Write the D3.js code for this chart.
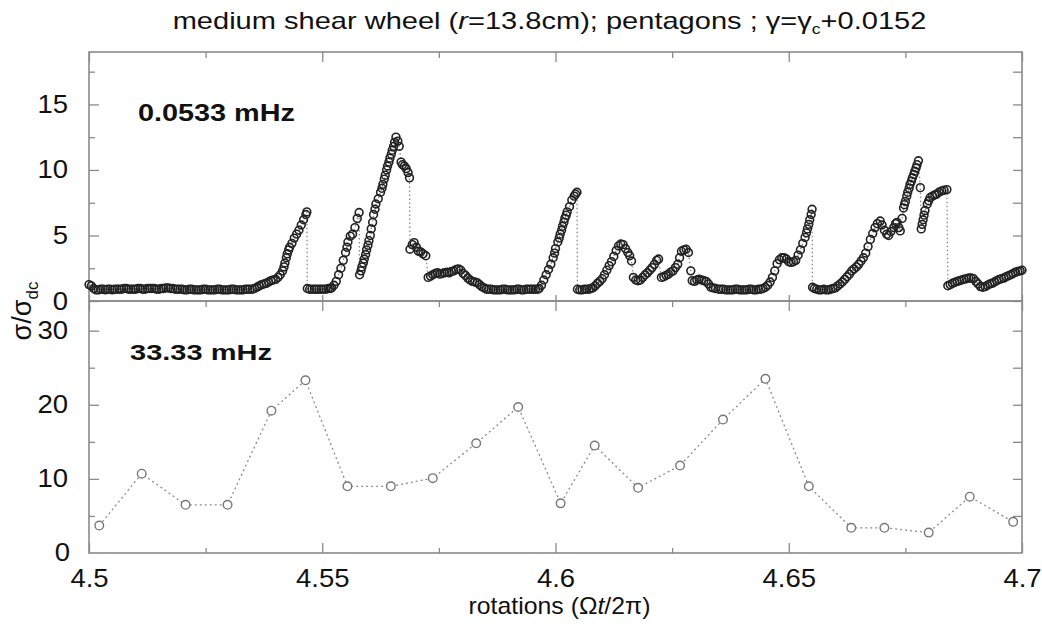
<!DOCTYPE html>
<html>
<head>
<meta charset="utf-8">
<script src="https://cdn.jsdelivr.net/npm/d3@7"></script>
<style>
  body { margin: 0; background: #fff; }
  svg { font-family: "Liberation Sans", Arial, sans-serif; }
</style>
</head>
<body>
<div id="chart"></div>
<script>
// x ticks (rotations) and y ticks for both panels
const xMajor = [4.5, 4.55, 4.6, 4.65, 4.7];
const xMinor = [4.525, 4.575, 4.625, 4.675];
const topMajor = [0, 5, 10, 15];
const topMinor = [2.5, 7.5, 12.5, 17.5];
const botMajor = [0, 10, 20, 30];
const botMinor = [5, 15, 25];

// top panel: 0.0533 mHz, [rotation, sigma/sigma_dc]
const topSeries = [
  [4.5000,1.25],[4.5005,1.15],[4.5010,0.95],[4.5015,0.85],
  [4.5020,0.85],[4.5025,0.9],[4.5030,0.9],[4.5035,0.85],[4.5040,0.9],[4.5045,0.9],[4.5050,0.85],
  [4.5055,0.9],[4.5060,0.9],[4.5065,0.9],[4.5070,0.9],[4.5075,0.95],[4.5080,0.95],[4.5085,0.9],
  [4.5090,0.9],[4.5095,0.9],[4.5100,0.9],[4.5105,0.95],[4.5110,0.95],[4.5115,0.9],[4.5120,0.9],
  [4.5125,0.95],[4.5130,0.95],[4.5135,0.95],[4.5140,0.95],[4.5145,0.9],[4.5150,0.9],[4.5155,0.95],
  [4.5160,0.95],[4.5165,1.0],[4.5170,1.0],[4.5175,0.95],[4.5180,0.95],[4.5185,0.9],[4.5190,0.9],
  [4.5195,0.9],[4.5200,0.9],[4.5205,0.85],[4.5210,0.85],[4.5215,0.9],[4.5220,0.9],[4.5225,0.85],
  [4.5230,0.85],[4.5235,0.85],[4.5240,0.85],[4.5245,0.9],[4.5250,0.9],[4.5255,0.85],[4.5260,0.85],
  [4.5265,0.85],[4.5270,0.85],[4.5275,0.9],[4.5280,0.9],[4.5285,0.85],[4.5290,0.85],[4.5295,0.85],
  [4.5300,0.85],[4.5305,0.9],[4.5310,0.9],[4.5315,0.85],[4.5320,0.85],[4.5325,0.85],[4.5330,0.85],
  [4.5335,0.9],[4.5340,0.9],[4.5345,0.9],
  [4.5350,0.9],[4.5355,0.95],[4.5360,1.05],[4.5365,1.15],[4.5370,1.25],[4.5375,1.3],[4.5380,1.35],
  [4.5385,1.45],[4.5390,1.55],[4.5395,1.6],[4.5400,1.65],[4.5405,1.8],[4.5410,2.0],[4.5415,2.3],
  [4.5418,2.6],[4.5420,2.9],[4.5423,3.3],[4.5425,3.6],[4.5428,3.9],[4.5430,4.1],[4.5435,4.4],
  [4.5440,4.8],[4.5445,5.1],[4.5450,5.4],[4.5455,5.8],[4.5460,6.2],[4.5465,6.6],[4.5467,6.8],
  [4.5468,0.95],[4.5473,0.9],[4.5478,0.9],[4.5483,0.9],[4.5488,0.9],[4.5493,0.9],[4.5498,0.9],
  [4.5503,0.9],[4.5508,0.9],[4.5513,0.95],[4.5517,0.95],
  [4.5520,1.0],[4.5525,1.2],[4.5530,1.5],[4.5535,2.0],[4.5540,2.5],[4.5545,3.1],[4.5550,3.7],
  [4.5553,4.1],[4.5555,4.5],[4.5560,4.95],[4.5565,5.1],[4.5570,5.6],[4.5575,6.3],[4.5579,6.75],
  [4.5580,2.0],[4.5583,2.3],[4.5585,2.6],[4.5588,2.9],[4.5590,3.2],[4.5593,3.55],[4.5595,3.9],
  [4.5598,4.25],[4.5600,4.6],[4.5603,5.0],[4.5605,5.5],[4.5608,6.0],[4.5610,6.6],[4.5613,7.0],
  [4.5615,7.4],[4.5620,7.8],[4.5625,8.3],[4.5628,8.6],[4.5630,8.9],[4.5633,9.3],[4.5635,9.6],
  [4.5638,10.0],[4.5640,10.3],[4.5643,10.6],[4.5645,10.9],[4.5648,11.2],[4.5650,11.5],[4.5653,11.8],
  [4.5655,12.1],[4.5658,12.5],[4.5662,12.2],[4.5665,11.8],[4.5669,10.6],[4.5672,10.4],
  [4.5676,10.3],[4.5680,10.1],[4.5684,9.8],[4.5687,9.4],
  [4.5688,3.95],[4.5693,4.3],[4.5697,4.45],[4.5702,4.1],[4.5706,3.8],[4.5711,3.75],[4.5716,3.6],
  [4.5722,3.45],
  [4.5727,1.8],[4.5732,1.9],[4.5737,2.0],[4.5742,2.1],[4.5747,2.15],[4.5752,2.05],[4.5757,2.1],
  [4.5762,2.15],[4.5767,2.2],[4.5772,2.15],[4.5777,2.25],[4.5782,2.3],[4.5787,2.4],[4.5792,2.45],
  [4.5797,2.35],[4.5802,2.1],[4.5807,1.95],[4.5812,1.75],[4.5817,1.6],[4.5822,1.5],[4.5827,1.45],
  [4.5832,1.4],[4.5837,1.25],[4.5842,1.1],[4.5847,1.0],[4.5852,0.9],
  [4.5857,0.9],[4.5862,0.9],[4.5867,0.85],[4.5872,0.85],[4.5877,0.85],[4.5882,0.85],[4.5887,0.9],
  [4.5892,0.9],[4.5897,0.85],[4.5902,0.85],[4.5907,0.85],[4.5912,0.85],[4.5917,0.9],[4.5922,0.9],
  [4.5927,0.85],[4.5932,0.85],[4.5937,0.9],[4.5942,0.9],[4.5947,0.9],[4.5952,0.9],[4.5957,0.9],
  [4.5962,0.9],
  [4.5965,0.95],[4.5970,1.2],[4.5975,1.6],[4.5980,2.0],[4.5985,2.4],[4.5990,2.8],[4.5995,3.3],
  [4.5998,3.65],[4.6000,4.0],[4.6005,4.5],[4.6008,4.8],[4.6010,5.1],[4.6013,5.4],[4.6015,5.7],
  [4.6018,6.0],[4.6020,6.3],[4.6023,6.55],[4.6025,6.8],[4.6030,7.2],[4.6035,7.7],[4.6040,8.0],
  [4.6043,8.15],[4.6046,8.3],
  [4.6047,0.9],[4.6052,0.85],[4.6057,0.85],[4.6062,0.9],[4.6067,0.9],[4.6072,0.9],[4.6076,0.95],
  [4.6080,1.0],[4.6085,1.15],[4.6090,1.35],[4.6095,1.5],[4.6100,1.7],[4.6105,2.0],[4.6110,2.35],
  [4.6115,2.7],[4.6120,3.0],[4.6125,3.4],[4.6130,3.85],[4.6135,4.2],[4.6140,4.35],[4.6145,4.3],
  [4.6150,4.0],[4.6155,3.7],[4.6159,3.45],[4.6163,3.05],
  [4.6167,1.8],[4.6172,1.6],[4.6177,1.55],[4.6182,1.6],[4.6187,1.8],[4.6192,2.0],[4.6197,2.15],
  [4.6202,2.35],[4.6207,2.55],[4.6212,2.8],[4.6217,3.1],[4.6221,3.2],
  [4.6227,1.8],[4.6232,1.85],[4.6237,1.95],[4.6242,2.05],[4.6247,2.2],[4.6252,2.3],[4.6257,2.55],
  [4.6262,2.8],[4.6266,3.3],[4.6270,3.8],[4.6275,3.9],[4.6280,3.95],[4.6285,3.7],[4.6290,2.3],
  [4.6293,1.55],[4.6298,1.5],[4.6303,1.6],[4.6308,1.67],[4.6313,1.6],[4.6318,1.55],[4.6323,1.5],
  [4.6328,1.3],[4.6333,1.05],[4.6338,1.0],[4.6343,0.95],[4.6350,0.9],
  [4.6355,0.9],[4.6360,0.9],[4.6365,0.85],[4.6370,0.85],[4.6375,0.85],[4.6380,0.85],[4.6385,0.9],
  [4.6390,0.9],[4.6395,0.85],[4.6400,0.85],[4.6405,0.85],[4.6410,0.85],[4.6415,0.9],[4.6420,0.9],
  [4.6425,0.85],[4.6430,0.85],[4.6435,0.9],[4.6440,0.9],
  [4.6445,0.95],[4.6450,1.05],[4.6455,1.2],[4.6460,1.45],[4.6465,1.8],[4.6470,2.3],[4.6475,2.85],
  [4.6480,3.15],[4.6485,3.3],[4.6490,3.3],[4.6495,3.2],[4.6500,3.0],[4.6505,2.95],[4.6510,3.0],
  [4.6515,3.1],[4.6520,3.5],[4.6525,3.9],[4.6530,4.4],[4.6535,4.85],[4.6538,5.2],[4.6540,5.5],
  [4.6543,5.85],[4.6545,6.2],[4.6548,6.6],[4.6550,7.0],
  [4.6551,1.05],[4.6555,0.95],[4.6560,0.9],[4.6565,0.85],[4.6570,0.85],[4.6575,0.9],[4.6580,0.85],
  [4.6585,0.85],[4.6590,0.9],[4.6595,0.95],
  [4.6600,1.0],[4.6605,1.15],[4.6610,1.3],[4.6615,1.45],[4.6620,1.65],[4.6625,1.85],[4.6630,2.05],
  [4.6635,2.3],[4.6640,2.45],[4.6645,2.6],[4.6650,2.8],[4.6655,3.05],[4.6660,3.3],[4.6665,3.65],
  [4.6670,4.15],[4.6675,4.7],[4.6680,5.15],[4.6685,5.6],[4.6690,5.9],[4.6696,6.1],[4.6700,5.8],
  [4.6705,5.4],[4.6710,5.1],[4.6714,5.0],[4.6719,5.3],[4.6725,5.6],[4.6729,5.9],[4.6732,6.0],
  [4.6736,5.6],[4.6739,5.35],[4.6743,6.3],[4.6746,7.1],[4.6748,7.35],[4.6750,7.6],[4.6753,8.0],
  [4.6755,8.3],[4.6758,8.6],[4.6760,8.9],[4.6763,9.15],[4.6765,9.4],[4.6768,9.65],[4.6770,9.9],
  [4.6773,10.15],[4.6775,10.4],[4.6778,10.7],[4.6782,8.65],
  [4.6784,5.5],[4.6786,5.85],[4.6788,6.2],[4.6790,6.55],[4.6792,6.9],[4.6797,7.4],[4.6800,7.65],
  [4.6803,7.9],[4.6808,8.0],[4.6813,8.1],[4.6817,8.15],[4.6822,8.3],[4.6828,8.4],[4.6833,8.45],
  [4.6839,8.5],
  [4.6841,1.16],[4.6846,1.25],[4.6851,1.35],[4.6856,1.42],[4.6861,1.5],[4.6866,1.55],[4.6871,1.6],
  [4.6876,1.67],[4.6881,1.7],[4.6886,1.75],[4.6891,1.75],[4.6896,1.7],[4.6901,1.5],[4.6906,1.3],
  [4.6911,1.1],[4.6916,1.05],[4.6921,1.1],[4.6926,1.2],[4.6931,1.3],[4.6936,1.35],[4.6941,1.45],
  [4.6946,1.55],[4.6951,1.65],[4.6956,1.7],[4.6961,1.75],[4.6966,1.85],[4.6971,1.93],[4.6976,2.0],
  [4.6981,2.1],[4.6986,2.2],[4.6991,2.25],[4.6996,2.3],[4.7000,2.35]
];

// bottom panel: 33.33 mHz
const botRot = [4.5022, 4.5113, 4.5207, 4.5297, 4.5391, 4.5464, 4.5554, 4.5647, 4.5737, 4.5830,
  4.5920, 4.6011, 4.6084, 4.6177, 4.6267, 4.6359, 4.6450, 4.6543, 4.6634, 4.6705, 4.6800, 4.6888, 4.6981];
const botSigma = [3.7, 10.7, 6.5, 6.5, 19.2, 23.3, 9.0, 9.0, 10.1, 14.8,
  19.7, 6.7, 14.5, 8.8, 11.8, 18.0, 23.5, 9.0, 3.4, 3.4, 2.75, 7.6, 4.2];

const W = 1042, H = 634;
const pLeft = 89, pRight = 1022, pTop = 52, pMid = 301, pBottom = 553;
const stretch = 1.1; // the original figure is a little wider than tall

const svg = d3.select("#chart").append("svg")
  .attr("width", W).attr("height", H);

const x = d3.scaleLinear().domain([4.5, 4.7]).range([pLeft, pRight]);
const yTop = d3.scaleLinear().domain([0, 19]).range([pMid, pTop]);
const yBot = d3.scaleLinear().domain([0, 34]).range([pBottom, pMid]);

const axisColor = "#8a8a8a";

// draw one set of inward ticks
function ticks(axisFn, scale, values, size, tx, ty, labels, pad) {
  const ax = axisFn(scale).tickValues(values).tickSize(-size).tickSizeOuter(0).tickPadding(pad || 10);
  if (!labels) ax.tickFormat("");
  else ax.tickFormat(d => String(d));
  const g = svg.append("g").attr("transform", `translate(${tx},${ty})`).call(ax);
  g.select(".domain").remove();
  g.selectAll("line").attr("stroke", axisColor).attr("stroke-width", 1.3);
  g.selectAll("text").attr("fill", "#111").style("font-size", "25px")
    .attr("transform", `scale(${stretch},1)`);
  return g;
}

// top panel ticks
ticks(d3.axisLeft, yTop, topMajor, 10, pLeft, 0, true, 19);
ticks(d3.axisLeft, yTop, topMinor, 6, pLeft, 0, false);
ticks(d3.axisRight, yTop, topMajor.concat(topMinor), 9, pRight, 0, false);
ticks(d3.axisTop, x, xMajor, 10, 0, pTop, false);
ticks(d3.axisTop, x, xMinor, 6, 0, pTop, false);
ticks(d3.axisBottom, x, xMajor, 6, 0, pMid, false);

// bottom panel ticks
ticks(d3.axisLeft, yBot, botMajor.slice(1), 10, pLeft, 0, true, 19);
ticks(d3.axisLeft, yBot, botMinor, 6, pLeft, 0, false);
ticks(d3.axisRight, yBot, botMajor.slice(1).concat(botMinor), 9, pRight, 0, false);
ticks(d3.axisTop, x, xMajor, 10, 0, pMid, false);
ticks(d3.axisTop, x, xMinor, 6, 0, pMid, false);
ticks(d3.axisBottom, x, xMajor, 10, 0, pBottom, true, 16);
ticks(d3.axisBottom, x, xMinor, 5, 0, pBottom, false);

// bottom panel "0" label
svg.append("g").attr("transform", `translate(${pLeft - 19},${yBot(0)}) scale(${stretch},1)`)
  .append("text").attr("dy", "0.32em")
  .attr("text-anchor", "end").style("font-size", "25px").attr("fill", "#111").text("0");

// frames
[[pTop, pMid], [pMid, pBottom]].forEach(([a, b]) => {
  svg.append("rect").attr("x", pLeft).attr("y", a).attr("width", pRight - pLeft).attr("height", b - a)
    .attr("fill", "none").attr("stroke", axisColor).attr("stroke-width", 1.6);
});

// top series
const line = d3.line().x(d => x(d[0])).y(d => yTop(d[1]));
svg.append("path").datum(topSeries).attr("d", line)
  .attr("fill", "none").attr("stroke", "#888").attr("stroke-width", 1.3)
  .attr("stroke-dasharray", "1.5,2.5");
svg.append("g").selectAll("circle").data(topSeries).join("circle")
  .attr("cx", d => x(d[0])).attr("cy", d => yTop(d[1])).attr("r", 3.9)
  .attr("fill", "none").attr("stroke", "#222").attr("stroke-width", 1.6);

// bottom series
const botData = botRot.map((r, i) => [r, botSigma[i]]);
const line2 = d3.line().x(d => x(d[0])).y(d => yBot(d[1]));
svg.append("path").datum(botData).attr("d", line2)
  .attr("fill", "none").attr("stroke", "#8c8c8c").attr("stroke-width", 1.3)
  .attr("stroke-dasharray", "2,3");
svg.append("g").selectAll("circle").data(botData).join("circle")
  .attr("cx", d => x(d[0])).attr("cy", d => yBot(d[1])).attr("r", 4.3)
  .attr("fill", "#fff").attr("stroke", "#777").attr("stroke-width", 1.4);

// text stretched to a target width, anchored at (ax, ay)
function fitText(ax, ay, anchor, width, build) {
  const g = svg.append("g").attr("transform", `translate(${ax},${ay})`);
  const t = g.append("text").attr("text-anchor", anchor).attr("fill", "#111");
  build(t);
  const sx = width / t.node().getComputedTextLength();
  g.attr("transform", `translate(${ax},${ay}) scale(${sx},1)`);
  return t;
}

// panel annotations
fitText(138, 121, "start", 157, t => t.style("font-size", "23px").style("font-weight", "bold").text("0.0533 mHz"));
fitText(130, 360, "start", 142, t => t.style("font-size", "23px").style("font-weight", "bold").text("33.33 mHz"));

// title
fitText((pLeft + pRight) / 2 - 6, 29, "middle", 754, t => {
  t.style("font-size", "23px");
  t.append("tspan").text("medium shear wheel (");
  t.append("tspan").style("font-style", "italic").text("r");
  t.append("tspan").text("=13.8cm);  pentagons ;  γ=γ");
  t.append("tspan").attr("dy", 5).style("font-size", "14px").text("c");
  t.append("tspan").attr("dy", -5).text("+0.0152");
});

// x label
fitText((pLeft + pRight) / 2 + 4, 614, "middle", 182, t => {
  t.style("font-size", "23px");
  t.append("tspan").text("rotations (Ω");
  t.append("tspan").style("font-style", "italic").text("t");
  t.append("tspan").text("/2π)");
});

// y label
const yl = svg.append("text").attr("transform", "translate(31,311) rotate(-90)")
  .attr("text-anchor", "middle").style("font-size", "27px").attr("fill", "#111");
yl.append("tspan").text("σ/σ");
yl.append("tspan").attr("dy", 7).style("font-size", "17px").text("dc");
</script>
</body>
</html>
